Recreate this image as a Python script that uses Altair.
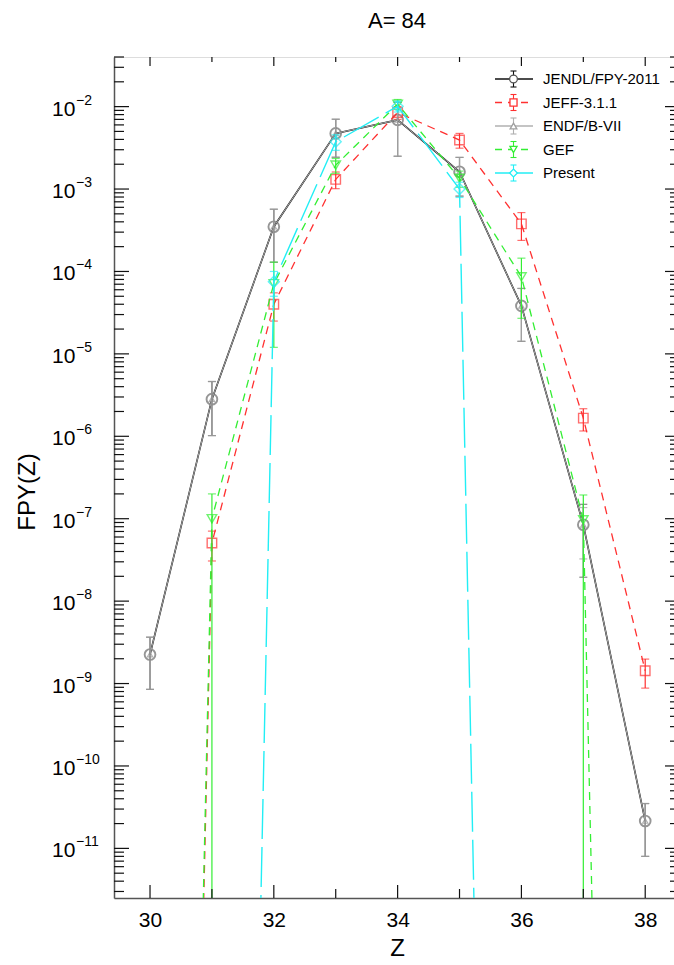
import altair as alt
import pandas as pd

# ---------------- data ----------------
Z_ALL = [30, 31, 32, 33, 34, 35, 36, 37, 38]

JENDL = [2.25e-9, 2.82e-6, 3.49e-4, 4.73e-3, 6.9e-3, 1.62e-3, 3.82e-5, 8.45e-8, 2.15e-11]
JENDL_ERR = [1.4e-9, 1.8e-6, 2.2e-4, 2.3e-3, 4.4e-3, 8.0e-4, 2.4e-5, 6.5e-8, 1.35e-11]

ENDF = [2.25e-9, 2.82e-6, 3.49e-4, 4.73e-3, 6.9e-3, 1.62e-3, 3.82e-5, 8.45e-8, 2.15e-11]
ENDF_ERR = [1.4e-9, 1.8e-6, 2.2e-4, 2.3e-3, 4.4e-3, 8.0e-4, 2.4e-5, 5.2e-8, 1.35e-11]

JEFF = [1e-40, 5.07e-8, 4.0e-5, 1.31e-3, 8.5e-3, 3.93e-3, 3.78e-4, 1.66e-6, 1.43e-9]
JEFF_ERR = [0, 2.0e-8, 1.5e-5, 3.0e-4, 1.5e-3, 8.0e-4, 1.4e-4, 5.0e-7, 5.5e-10]

GEF = [1e-40, 1.0e-7, 7.1e-5, 1.95e-3, 1.07e-2, 1.35e-3, 8.6e-5, 9.7e-8, 1e-40]
GEF_ERR = [0, 1.0e-7, 5.9e-5, 4.0e-4, 1.5e-3, 3.0e-4, 5.9e-5, 9.7e-8, 0]

Z_PRESENT = [31, 32, 33, 34, 35, 36]
PRESENT = [1e-40, 7.5e-5, 3.75e-3, 1.01e-2, 1.0e-3, 1e-40]
PRESENT_ERR = [0, 2.5e-5, 8.0e-4, 1.5e-3, 2.1e-4, 0]

SERIES_NAMES = ["JENDL/FPY-2011", "JEFF-3.1.1", "ENDF/B-VII", "GEF", "Present"]
X_LABELS = [30, 32, 34, 36, 38]
X_MINOR = [31, 33, 35, 37]
Y_DECADES = [-2, -3, -4, -5, -6, -7, -8, -9, -10, -11]
Y_TICK_EXP = [-12, -11, -10, -9, -8, -7, -6, -5, -4, -3, -2]
Y_TICK_MULT = [1, 2, 3, 4, 5, 6, 7, 8, 9]

# ---------------- layout ----------------
W, H = 566, 841
YMIN, YMAX = 2.5e-12, 0.04
XMIN, XMAX = 29.418, 38.562
FONT = "Liberation Sans"

xs = alt.Scale(domain=[XMIN, XMAX], nice=False, zero=False)
ys = alt.Scale(type="log", domain=[YMIN, YMAX], nice=False)

x_axis = alt.Axis(values=X_LABELS, ticks=False, grid=False, labelFontSize=21, labelFont=FONT,
                  labelColor="black", labelPadding=11, domainColor="#555", domainWidth=1.5,
                  title="Z", titleFont=FONT, titleFontSize=24, titleFontWeight="normal",
                  titleColor="black", titlePadding=6, format="d")
y_axis = alt.Axis(labels=False, ticks=False, grid=False, domainColor="#555", domainWidth=1.5,
                  title=None)


def XE(field="Z"):
    return alt.X(f"{field}:Q", scale=xs, axis=x_axis)


def YE(field="v"):
    return alt.Y(f"{field}:Q", scale=ys, axis=y_axis)


def series(z, v, e, color, dash, shape, size, lw, err_color, marker_color=None, marker_sw=1.4):
    df = pd.DataFrame({"Z": z, "v": v, "e": e})
    df["lo"] = (df["v"] - df["e"]).clip(lower=1e-40)
    df["hi"] = df["v"] + df["e"]
    eb = df[df["e"] > 0]
    layers = []
    lkw = dict(clip=True, color=color, strokeWidth=lw)
    if dash:
        lkw["strokeDash"] = dash
    layers.append(alt.Chart(df).mark_line(**lkw).encode(x=XE(), y=YE()))
    layers.append(alt.Chart(eb).mark_rule(clip=True, color=err_color, strokeWidth=1.2).encode(
        x=XE(), y=YE("lo"), y2="hi:Q"))
    layers.append(alt.Chart(eb).mark_tick(clip=True, color=err_color, orient="horizontal",
                                           size=8, thickness=1.2).encode(x=XE(), y=YE("hi")))
    lo_caps = eb[eb["v"] - eb["e"] > 0]
    layers.append(alt.Chart(lo_caps).mark_tick(clip=True, color=err_color, orient="horizontal",
                                               size=8, thickness=1.2).encode(x=XE(), y=YE("lo")))
    pts = df[df["v"] > YMIN]
    layers.append(alt.Chart(pts).mark_point(clip=True, shape=shape, size=size, filled=False,
                                            color=marker_color or color,
                                            strokeWidth=marker_sw).encode(x=XE(), y=YE()))
    return layers


COL_JENDL = "#111111"
COL_JEFF = "#ff3030"
COL_ENDF = "#a8a8a8"
COL_GEF = "#33ee33"
COL_PRES = "#22eef5"

layers = []
layers += series(Z_ALL, JENDL, JENDL_ERR, COL_JENDL, None, "circle", 115, 1.6, "#555555",
                 marker_color="#6a6a6a", marker_sw=1.9)
layers += series(Z_ALL, JEFF, JEFF_ERR, COL_JEFF, [8, 6], "square", 90, 1.3, COL_JEFF)
layers += series(Z_ALL, ENDF, ENDF_ERR, COL_ENDF, None, "triangle-up", 28, 1.0, "#a0a0a0",
                 marker_color="#909090", marker_sw=1.2)
layers += series(Z_ALL, GEF, GEF_ERR, COL_GEF, [8, 6], "triangle-down", 90, 1.3, COL_GEF)
layers += series(Z_PRESENT, PRESENT, PRESENT_ERR, COL_PRES, [40, 8], "diamond", 120, 1.4, COL_PRES)

# ---------------- ticks (inside) ----------------
yt = pd.DataFrame([{"v": m * 10.0 ** k, "major": m == 1} for k in Y_TICK_EXP for m in Y_TICK_MULT])
yt = yt[(yt["v"] >= YMIN) & (yt["v"] <= YMAX)]
ymaj = yt[yt["major"]]
ymin_ = yt[~yt["major"]]
tick_col = "#111111"
for d, L in ((ymaj, 15), (ymin_, 10)):
    layers.append(alt.Chart(d).mark_rule(color=tick_col, strokeWidth=1.2).encode(
        x=alt.value(0), x2=alt.value(L), y=YE()))
    layers.append(alt.Chart(d).mark_rule(color=tick_col, strokeWidth=1.2).encode(
        x=alt.value(W - L), x2=alt.value(W), y=YE()))

xb_maj = pd.DataFrame({"Z": X_LABELS})
xb_min = pd.DataFrame({"Z": X_MINOR})
for d, L, Lt in ((xb_maj, 13, 9), (xb_min, 9, 5)):
    layers.append(alt.Chart(d).mark_rule(color=tick_col, strokeWidth=1.2).encode(
        x=XE(), y=alt.value(H - L), y2=alt.value(H)))
    layers.append(alt.Chart(d).mark_rule(color=tick_col, strokeWidth=1.2).encode(
        x=XE(), y=alt.value(0), y2=alt.value(Lt)))

# ---------------- y tick labels 10^k ----------------
yl = pd.DataFrame({"v": [10.0 ** k for k in Y_DECADES],
                   "base": ["10"] * len(Y_DECADES),
                   "exp": ["\u2212" + str(-k) for k in Y_DECADES]})
layers.append(alt.Chart(yl).mark_text(align="left", baseline="middle", fontSize=21, font=FONT,
                                      color="black", dy=3).encode(
    x=alt.value(-62), y=YE(), text="base:N"))
layers.append(alt.Chart(yl).mark_text(align="left", baseline="middle", fontSize=14, font=FONT,
                                      color="black", dy=-6).encode(
    x=alt.value(-38), y=YE(), text="exp:N"))

# y axis title
layers.append(alt.Chart(pd.DataFrame({"t": ["FPY(Z)"]})).mark_text(
    angle=270, fontSize=24, font=FONT, color="black", align="center", baseline="middle").encode(
    x=alt.value(-86), y=alt.value(435), text="t:N"))

# ---------------- legend ----------------
leg_colors = [COL_JENDL, COL_JEFF, "#b0b0b0", COL_GEF, COL_PRES]
leg_mcolors = ["#555555", COL_JEFF, "#a0a0a0", COL_GEF, COL_PRES]
leg_shapes = ["circle", "square", "triangle-up", "triangle-down", "diamond"]
leg_sizes = [60, 50, 45, 50, 60]
leg_dash = [None, [7, 6], None, [7, 6], None]
for i, name in enumerate(SERIES_NAMES):
    py = 22 + i * 23.5
    one = pd.DataFrame({"t": [name]})
    lkw = dict(color=leg_colors[i], strokeWidth=1.3)
    if leg_dash[i]:
        lkw["strokeDash"] = leg_dash[i]
    layers.append(alt.Chart(one).mark_rule(**lkw).encode(
        x=alt.value(381), x2=alt.value(419), y=alt.value(py)))
    layers.append(alt.Chart(one).mark_rule(color=leg_colors[i], strokeWidth=1.1).encode(
        x=alt.value(399.5), y=alt.value(py - 8), y2=alt.value(py + 8)))
    for cy in (py - 8, py + 8):
        layers.append(alt.Chart(one).mark_rule(color=leg_colors[i], strokeWidth=1.1).encode(
            x=alt.value(396.5), x2=alt.value(402.5), y=alt.value(cy)))
    layers.append(alt.Chart(one).mark_point(shape=leg_shapes[i], size=leg_sizes[i], filled=True,
                                            fill="white", stroke=leg_mcolors[i], strokeWidth=1.3,
                                            opacity=1).encode(
        x=alt.value(399.5), y=alt.value(py)))
    layers.append(alt.Chart(one).mark_text(align="left", baseline="middle", fontSize=15, font=FONT,
                                           color="black").encode(
        x=alt.value(429), y=alt.value(py), text="t:N"))

chart = alt.layer(*layers).properties(
    width=W, height=H,
    title=alt.Title("A= 84", fontSize=22, fontWeight="normal", font=FONT, color="black",
                    anchor="middle", offset=23),
    padding={"left": 114, "top": 57, "right": -6, "bottom": 67},
    autosize="none",
).configure_view(stroke="#555555", strokeWidth=1.5).configure(background="white")

chart.save("out.html", embed_options={"renderer": "svg", "actions": False})
